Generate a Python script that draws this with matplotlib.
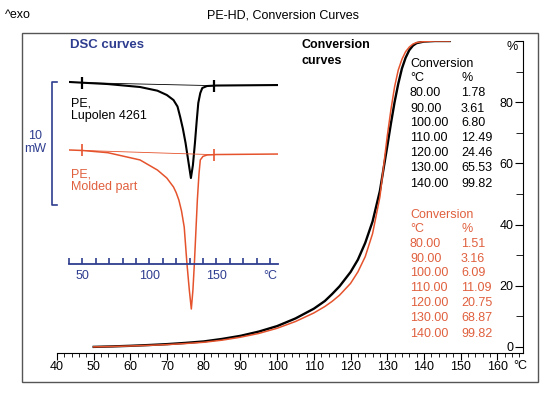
import matplotlib.pyplot as plt
from matplotlib.patches import Rectangle
import numpy as np

plt.rcParams["font.family"] = ["Liberation Sans", "DejaVu Sans"]
plt.rcParams["font.size"] = 9

W, H = 548, 394
RED = "#e5532d"
RED_TXT = "#e0603e"
BLUE = "#2e3d8f"

# conversion curves (main axes), temperature in degC, conversion in %
conv_temp = [50, 55, 60, 65, 70, 75, 80, 85, 90, 95, 100, 105, 110, 113, 115, 117,
             120, 122, 124, 126, 128, 130, 131, 132, 133, 134, 135, 136, 137, 138,
             140, 143, 147]
conv_black = [0, 0.15, 0.35, 0.6, 0.9, 1.3, 1.78, 2.6, 3.61, 5.0, 6.80, 9.3, 12.49,
              15.0, 17.3, 19.8, 24.46, 28.5, 34, 41, 51, 65.53, 73, 80, 86, 91, 94.5,
              97, 98.5, 99.3, 99.82, 100, 100]
conv_red = [0, 0.12, 0.3, 0.5, 0.75, 1.1, 1.51, 2.2, 3.16, 4.4, 6.09, 8.3, 11.09,
            13.2, 14.9, 16.9, 20.75, 24.5, 29.5, 37, 49, 68.87, 77.5, 85, 90.5, 94,
            96.5, 98, 99, 99.5, 99.82, 100, 100]

# table values
table_temp = ["80.00", "90.00", "100.00", "110.00", "120.00", "130.00", "140.00"]
table_black = ["1.78", "3.61", "6.80", "12.49", "24.46", "65.53", "99.82"]
table_red = ["1.51", "3.16", "6.09", "11.09", "20.75", "68.87", "99.82"]

# DSC curves (inset), heat flow in mW (arbitrary offset)
dsc_temp_black = [40, 50, 69, 93, 106, 113, 118, 121, 123, 125, 127, 129.5, 131,
                  132.5, 134, 135.3, 136.5, 138, 139.5, 143, 150, 196]
dsc_black = [14.80, 14.74, 14.63, 14.39, 14.09, 13.74, 13.33, 12.8, 11.95, 11.0, 9.84,
             8.05, 6.99, 8.05, 9.84, 11.6, 13.09, 13.9, 14.31, 14.47, 14.51, 14.55]
dsc_temp_red = [40, 50, 69, 93, 106, 113, 118, 120, 122, 124, 126, 128, 129.8, 131.3,
                132.5, 133.6, 135.8, 137, 138, 140, 143, 150, 196]
dsc_red = [9.27, 9.23, 9.05, 8.46, 7.64, 6.99, 6.26, 5.8, 5.2, 4.3, 3.0, 0.08, -2.11,
           -3.66, -2.11, 0.08, 5.20, 7.3, 8.46, 8.75, 8.86, 8.90, 8.94]
lim_temp = [50, 148]


def fx(px):
    return px / W


def fy(py):
    return 1 - py / H


fig = plt.figure(figsize=(W / 100, H / 100), dpi=100)

# outer frame
fig.patches.append(Rectangle((fx(22), fy(382)), fx(538) - fx(22), fy(33) - fy(382),
                             transform=fig.transFigure, fill=False, ec="#555555", lw=1))
fig.text(fx(5), fy(15), "^exo", va="center", ha="left")
fig.text(fx(283), fy(15), "PE-HD, Conversion Curves", va="center", ha="center")

# main axes
ax = fig.add_axes([fx(57), fy(353), fx(523) - fx(57), fy(41) - fy(353)])
ax.patch.set_alpha(0)
ax.plot(conv_temp, conv_black, color="black", lw=1.7)
ax.plot(conv_temp, conv_red, color=RED, lw=1.1)
ax.set_xlim(40, 167)
ax.set_ylim(-2, 100)
for s in ["top", "right"]:
    ax.spines[s].set_visible(False)
ax.spines["left"].set_position(("axes", 1))
ax.set_xticks(np.arange(40, 161, 10))
ax.set_xticks(np.arange(40, 167, 2), minor=True)
ax.tick_params(axis="x", which="major", direction="out", length=5, pad=1, labelsize=9)
ax.tick_params(axis="x", which="minor", direction="out", length=3)
ax.set_yticks([0, 20, 40, 60, 80, 100])
ax.set_yticklabels(["0", "20", "40", "60", "80", ""])
ax.set_yticks(np.arange(10, 100, 10), minor=True)
ax.tick_params(axis="y", which="major", direction="out", length=6, pad=1, labelsize=9)
ax.tick_params(axis="y", which="minor", direction="out", length=5)
fig.text(fx(520), fy(360), "°C", ha="center", va="top")
fig.text(fx(512), fy(47), "%", ha="center", va="center")
fig.text(fx(302), fy(45), "Conversion", ha="left", va="center", fontweight="bold")
fig.text(fx(302), fy(61), "curves", ha="left", va="center", fontweight="bold")

# tables
rows_black = [64, 78, 93, 109, 123, 138, 153, 168, 184]
rows_red = [215, 229, 244, 259, 273, 288, 303, 318, 334]
for rows, vals, col in [(rows_black, table_black, "black"), (rows_red, table_red, RED_TXT)]:
    fig.text(fx(410), fy(rows[0]), "Conversion", color=col, va="center")
    fig.text(fx(410), fy(rows[1]), "°C", color=col, va="center")
    fig.text(fx(461), fy(rows[1]), "%", color=col, va="center")
    for r, t, v in zip(rows[2:], table_temp, vals):
        fig.text(fx(410), fy(r), t, color=col, va="center")
        fig.text(fx(461), fy(r), v, color=col, va="center")

# DSC inset
scale = 12.3  # px per mW
ins = fig.add_axes([fx(69), fy(330), fx(278) - fx(69), fy(60) - fy(330)])
ins.patch.set_alpha(0)
ins.set_xlim(40, 196)
ins.set_ylim((264 - 330) / scale, (264 - 60) / scale)
for s in ["top", "right", "left"]:
    ins.spines[s].set_visible(False)
ins.spines["bottom"].set_position(("data", 0))
ins.spines["bottom"].set_color(BLUE)
ins.spines["bottom"].set_linewidth(1.3)
ins.set_yticks([])
ins.set_xticks([50, 100, 150, 190])
ins.set_xticklabels(["50", "100", "150", "°C"])
ins.set_xticks(np.arange(40, 196, 10), minor=True)
ins.tick_params(axis="x", which="both", direction="in", length=4, width=1.2,
                color=BLUE, labelcolor=BLUE, pad=4, labelsize=9)
ins.set_zorder(3)

ins.plot(dsc_temp_black, dsc_black, color="black", lw=1.5)
ins.plot(dsc_temp_red, dsc_red, color=RED, lw=1.1)
b0 = np.interp(lim_temp, dsc_temp_black, dsc_black)
r0 = np.interp(lim_temp, dsc_temp_red, dsc_red)
ins.plot(lim_temp, b0, color="black", lw=0.6)
ins.plot(lim_temp, r0, color=RED, lw=0.6)
ins.plot(lim_temp, b0, ls="none", marker="|", ms=8, mew=1.6, color="black")
ins.plot(lim_temp, r0, ls="none", marker="|", ms=8, mew=1.2, color=RED)

# scale bar 10 mW
ins.plot([31, 27.3, 27.3, 31], [14.8, 14.8, 4.8, 4.8], color=BLUE, lw=1.2, clip_on=False)
ins.text(14.6, 9.9, "10\nmW", color=BLUE, ha="center", va="center", linespacing=1.15)
ins.text(41, (264 - 45) / scale, "DSC curves", color=BLUE, fontweight="bold",
         fontsize=9.5, ha="left", va="center")
ins.text(41.5, (264 - 110) / scale, "PE,\nLupolen 4261", color="black", va="center",
         linespacing=1.1)
ins.text(41.5, (264 - 181) / scale, "PE,\nMolded part", color=RED_TXT, va="center",
         linespacing=1.1)

fig.savefig("out.png", dpi=100)
